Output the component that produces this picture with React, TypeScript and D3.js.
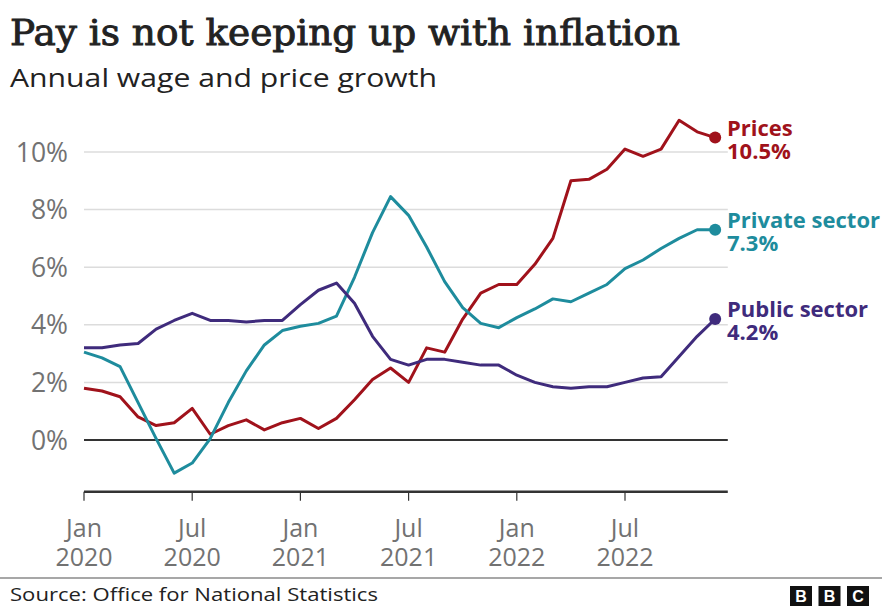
import React from "react";
import * as d3 from "d3";

const title = "Pay is not keeping up with inflation";
const subtitle = "Annual wage and price growth";
const source = "Source: Office for National Statistics";

// Monthly values, Jan 2020 .. Dec 2022
const prices = [1.8, 1.7, 1.5, 0.8, 0.5, 0.6, 1.1, 0.2, 0.5, 0.7, 0.35, 0.6,
  0.75, 0.4, 0.75, 1.4, 2.1, 2.5, 2.0, 3.2, 3.05, 4.2, 5.1, 5.4,
  5.4, 6.1, 7.0, 9.0, 9.05, 9.4, 10.1, 9.85, 10.1, 11.1, 10.7, 10.5];
const privateSector = [3.05, 2.85, 2.55, 1.3, 0.05, -1.15, -0.8, 0.05, 1.3, 2.4, 3.3, 3.8,
  3.95, 4.05, 4.3, 5.65, 7.2, 8.45, 7.8, 6.7, 5.5, 4.6, 4.05, 3.9,
  4.25, 4.55, 4.9, 4.8, 5.1, 5.4, 5.95, 6.25, 6.65, 7.0, 7.3, 7.3];
const publicSector = [3.2, 3.2, 3.3, 3.35, 3.85, 4.15, 4.4, 4.15, 4.15, 4.1, 4.15, 4.15,
  4.7, 5.2, 5.45, 4.75, 3.6, 2.8, 2.6, 2.8, 2.8, 2.7, 2.6, 2.6,
  2.25, 2.0, 1.85, 1.8, 1.85, 1.85, 2.0, 2.15, 2.2, 2.9, 3.6, 4.2];

const yTicks = [0, 2, 4, 6, 8, 10];
const xTickMonths = [0, 6, 12, 18, 24, 30];
const xTickLabels = [["Jan", "2020"], ["Jul", "2020"], ["Jan", "2021"], ["Jul", "2021"], ["Jan", "2022"], ["Jul", "2022"]];

const seriesNames = ["Prices", "Private sector", "Public sector"];
const seriesValues = [prices, privateSector, publicSector];
const seriesColors = ["#a0121b", "#1e8c9d", "#3f2b7c"];
const seriesLabels = ["10.5%", "7.3%", "4.2%"];

const W = 882, H = 606;

export default function App() {
  const x = d3.scaleLinear().domain([0, 30]).range([84, 625]);
  const y = d3.scaleLinear().domain([0, 10]).range([440, 152]);
  const xEnd = x(35.7);
  const axisY = y(-1.8);
  const line = d3.line<number>().x((_, i) => x(i)).y((d) => y(d));
  const sans = "'Open Sans', 'Noto Sans', sans-serif";

  return (
    <svg width={W} height={H} style={{ position: "absolute", left: 0, top: 0, background: "#fff" }}
      xmlns="http://www.w3.org/2000/svg">
      <rect width={W} height={H} fill="#fff" />
      <text x={10} y={45} fontFamily="'DejaVu Serif', serif" fontSize={35}
        fill="#222" stroke="#222" strokeWidth={0.9} textLength={670} lengthAdjust="spacingAndGlyphs">{title}</text>
      <text x={10} y={87} fontFamily={sans} fontSize={25} fill="#222"
        textLength={427} lengthAdjust="spacingAndGlyphs">{subtitle}</text>

      {yTicks.map((t) => (
        <g key={t}>
          {t !== 0 && <line x1={x(0)} x2={xEnd} y1={y(t)} y2={y(t)} stroke="#dcdcdc" strokeWidth={1.5} />}
          <text x={68} y={y(t)} dy="0.36em" textAnchor="end" fontFamily={sans} fontSize={26.5} fill="#727272">{t}%</text>
        </g>
      ))}
      <line x1={x(0)} x2={xEnd} y1={y(0)} y2={y(0)} stroke="#333" strokeWidth={2} />

      <line x1={x(0)} x2={xEnd} y1={axisY} y2={axisY} stroke="#333" strokeWidth={2.5} />
      {xTickMonths.map((m, i) => (
        <g key={m}>
          <line x1={x(m)} x2={x(m)} y1={axisY} y2={axisY + 9} stroke="#333" strokeWidth={1.2} />
          <text x={x(m)} y={537} textAnchor="middle" fontFamily={sans} fontSize={25} fill="#727272">
            <tspan x={x(m)} y={537}>{xTickLabels[i][0]}</tspan>
            <tspan x={x(m)} y={566}>{xTickLabels[i][1]}</tspan>
          </text>
        </g>
      ))}

      {seriesValues.map((vals, s) => {
        const last = vals.length - 1;
        const ly = y(vals[last]);
        return (
          <g key={seriesNames[s]}>
            <path d={line(vals) || ""} fill="none" stroke={seriesColors[s]} strokeWidth={3} strokeLinejoin="round" />
            <circle cx={x(last)} cy={ly} r={6} fill={seriesColors[s]} />
            <text fontFamily={sans} fontWeight="bold" fontSize={22} fill={seriesColors[s]}>
              <tspan x={727} y={ly - 2}>{seriesNames[s]}</tspan>
              <tspan x={727} y={ly + 21}>{seriesLabels[s]}</tspan>
            </text>
          </g>
        );
      })}

      <line x1={0} x2={W} y1={578} y2={578} stroke="#8a8a8a" strokeWidth={1.5} />
      <text x={10} y={601} fontFamily={sans} fontSize={19} fill="#222"
        textLength={368} lengthAdjust="spacingAndGlyphs">{source}</text>
      {["B", "B", "C"].map((c, i) => (
        <g key={i}>
          <rect x={790 + i * 28.5} y={586} width={22} height={20} fill="#111" />
          <text x={801 + i * 28.5} y={602} textAnchor="middle" fontFamily="'Liberation Sans', sans-serif" fontWeight="bold" fontSize={16} fill="#fff">{c}</text>
        </g>
      ))}
    </svg>
  );
}
